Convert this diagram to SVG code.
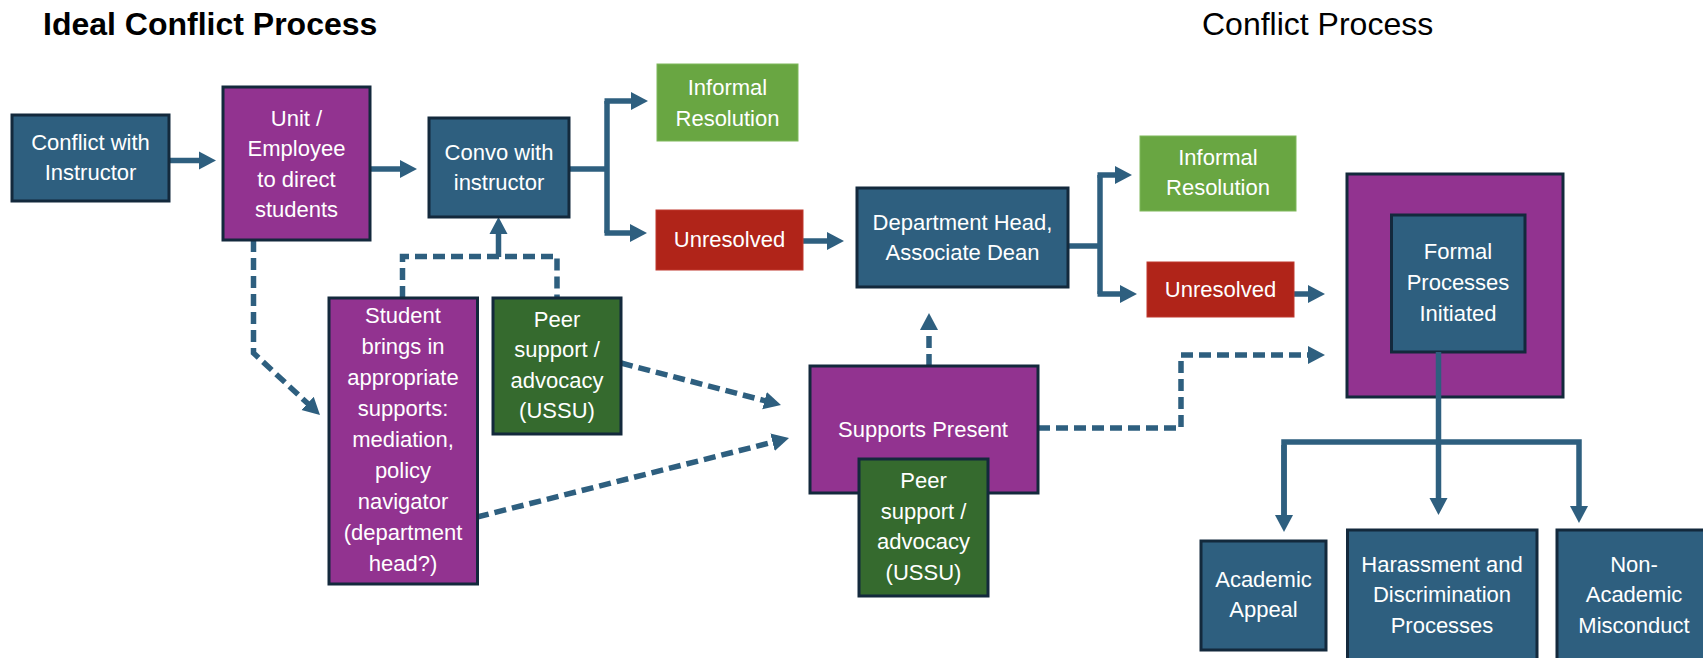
<svg xmlns="http://www.w3.org/2000/svg" width="1703" height="658" viewBox="0 0 1703 658">
<style>
.t{font-family:"Liberation Sans",Arial,sans-serif;font-size:22px;fill:#ffffff;text-anchor:middle}
.title{font-family:"Liberation Sans",Arial,sans-serif;font-size:32px;fill:#000000}
.blue{fill:#2e5f7f;stroke:#13293c;stroke-width:3}
.purple{fill:#923390;stroke:#13293c;stroke-width:3}
.dgreen{fill:#356a2e;stroke:#13293c;stroke-width:3}
.lgreen{fill:#69a642;stroke:#7fb85a;stroke-width:1}
.red{fill:#b02419;stroke:#c0392e;stroke-width:1}
.c{fill:none;stroke:#2e5f7f;stroke-width:5.5}
.d{fill:none;stroke:#2e5f7f;stroke-width:5.5;stroke-dasharray:12 6}
</style>
<defs>
<marker id="ah" markerUnits="userSpaceOnUse" markerWidth="20" markerHeight="20" viewBox="0 -10 20 20" refX="1" refY="0" orient="auto">
<path d="M0,-9 L17,0 L0,9 z" fill="#2e5f7f"/>
</marker>
</defs>
<rect width="1703" height="658" fill="#ffffff"/>
<text class="title" x="43" y="35" font-weight="bold">Ideal Conflict Process</text>
<text class="title" x="1202" y="35">Conflict Process</text>

<g id="connectors">
<path class="c" d="M169,160.5 H200" marker-end="url(#ah)"/>
<path class="c" d="M370,169 H401" marker-end="url(#ah)"/>
<path class="c" d="M498.5,257 V233" marker-end="url(#ah)"/>
<path class="c" d="M569,169 H607"/>
<path class="c" d="M607,101 V233"/>
<path class="c" d="M604.5,101 H632" marker-end="url(#ah)"/>
<path class="c" d="M604.5,233 H631" marker-end="url(#ah)"/>
<path class="c" d="M803,241 H828" marker-end="url(#ah)"/>
<path class="c" d="M1068,246 H1100"/>
<path class="c" d="M1100,175 V294"/>
<path class="c" d="M1097.5,175 H1116" marker-end="url(#ah)"/>
<path class="c" d="M1097.5,294 H1121" marker-end="url(#ah)"/>
<path class="c" d="M1294,294 H1309" marker-end="url(#ah)"/>
<path class="d" d="M253.5,240 V353 L308.3,404.1" marker-end="url(#ah)"/>
<path class="d" d="M402.5,298 V256.5 H557 V298"/>
<path class="d" d="M621,363 L765.5,400.9" marker-end="url(#ah)"/>
<path class="d" d="M477,517 L773.5,442" marker-end="url(#ah)"/>
<path class="d" d="M929,366 V329" marker-end="url(#ah)"/>
<path class="d" d="M1038,428 H1181 V355 H1309" marker-end="url(#ah)"/>
</g>

<g id="n1">
<rect class="blue" x="12" y="115" width="157" height="86"/>
<text class="t" x="90.5" y="150">Conflict with</text>
<text class="t" x="90.5" y="180">Instructor</text>
</g>
<g id="n2">
<rect class="purple" x="223" y="87" width="147" height="153"/>
<text class="t" x="296.5" y="125.5">Unit /</text>
<text class="t" x="296.5" y="156">Employee</text>
<text class="t" x="296.5" y="186.5">to direct</text>
<text class="t" x="296.5" y="217">students</text>
</g>
<g id="n3">
<rect class="blue" x="429" y="118" width="140" height="99"/>
<text class="t" x="499" y="160">Convo with</text>
<text class="t" x="499" y="190">instructor</text>
</g>
<g id="n4">
<rect class="lgreen" x="657" y="64" width="141" height="77"/>
<text class="t" x="727.5" y="95">Informal</text>
<text class="t" x="727.5" y="126">Resolution</text>
</g>
<g id="n5">
<rect class="red" x="656" y="210" width="147" height="60"/>
<text class="t" x="729.5" y="247">Unresolved</text>
</g>
<g id="n6">
<rect class="blue" x="857" y="188" width="211" height="99"/>
<text class="t" x="962.5" y="230">Department Head,</text>
<text class="t" x="962.5" y="260">Associate Dean</text>
</g>
<g id="n7">
<rect class="lgreen" x="1140" y="136" width="156" height="75"/>
<text class="t" x="1218" y="165">Informal</text>
<text class="t" x="1218" y="195">Resolution</text>
</g>
<g id="n8">
<rect class="red" x="1147" y="262" width="147" height="55"/>
<text class="t" x="1220.5" y="297">Unresolved</text>
</g>
<g id="n9">
<rect class="purple" x="1347" y="174" width="216" height="223"/>
<rect class="blue" x="1391.5" y="215" width="133.5" height="137"/>
<text class="t" x="1458" y="259">Formal</text>
<text class="t" x="1458" y="290">Processes</text>
<text class="t" x="1458" y="321">Initiated</text>
</g>
<g id="n10">
<rect class="purple" x="329" y="298" width="148.5" height="286"/>
<text class="t" x="403" y="323">Student</text>
<text class="t" x="403" y="354">brings in</text>
<text class="t" x="403" y="385">appropriate</text>
<text class="t" x="403" y="416">supports:</text>
<text class="t" x="403" y="447">mediation,</text>
<text class="t" x="403" y="478">policy</text>
<text class="t" x="403" y="509">navigator</text>
<text class="t" x="403" y="540">(department</text>
<text class="t" x="403" y="571">head?)</text>
</g>
<g id="n11">
<rect class="dgreen" x="493" y="298" width="128" height="136"/>
<text class="t" x="557" y="327">Peer</text>
<text class="t" x="557" y="357">support /</text>
<text class="t" x="557" y="388">advocacy</text>
<text class="t" x="557" y="418">(USSU)</text>
</g>
<g id="n12">
<rect class="purple" x="810" y="366" width="228" height="127"/>
<text class="t" x="923" y="437">Supports Present</text>
</g>
<g id="n13">
<rect class="dgreen" x="859" y="459" width="129" height="137"/>
<text class="t" x="923.5" y="488">Peer</text>
<text class="t" x="923.5" y="518.5">support /</text>
<text class="t" x="923.5" y="549">advocacy</text>
<text class="t" x="923.5" y="579.5">(USSU)</text>
</g>

<g id="tree">
<path class="c" d="M1438.5,352 V499" marker-end="url(#ah)"/>
<path class="c" d="M1284,516 V442 H1579 V507" marker-end="url(#ah)"/>
<path class="c" d="M1284,445 V516" marker-end="url(#ah)"/>
</g>

<g id="n14">
<rect class="blue" x="1201" y="541" width="125" height="109"/>
<text class="t" x="1263.5" y="587">Academic</text>
<text class="t" x="1263.5" y="617">Appeal</text>
</g>
<g id="n15">
<rect class="blue" x="1347.5" y="530" width="189.5" height="140"/>
<text class="t" x="1442" y="572">Harassment and</text>
<text class="t" x="1442" y="602">Discrimination</text>
<text class="t" x="1442" y="633">Processes</text>
</g>
<g id="n16">
<rect class="blue" x="1557" y="530" width="160" height="140"/>
<text class="t" x="1634" y="572">Non-</text>
<text class="t" x="1634" y="602">Academic</text>
<text class="t" x="1634" y="633">Misconduct</text>
</g>
</svg>
